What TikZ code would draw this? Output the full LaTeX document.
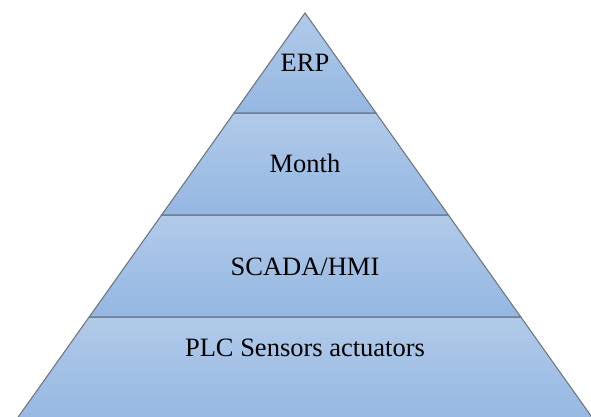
\documentclass[tikz,border=0pt]{standalone}
\usepackage{fontspec}
\setmainfont{Liberation Serif}
\newfontfamily\labelface{Liberation Serif}
\begin{document}
\begin{tikzpicture}[x=1pt,y=1pt,
  layer/.style={draw=edgegray, line width=1.1pt, line join=miter,
    top color=layertop, bottom color=layerbottom},
  label/.style={anchor=base, inner sep=0pt, text=black,
    font=\labelface\fontsize{26.5}{30}\selectfont}]
\definecolor{layertop}{HTML}{B1CAE9}
\definecolor{layerbottom}{HTML}{94B7E2}
\definecolor{edgegray}{HTML}{6E7884}
\clip (0,0) rectangle (591,417);
% pyramid layers, bottom to top
\path[layer] (11.1,-10) -- (89.2,100) -- (520.8,100) -- (598.9,-10) -- cycle;
\path[layer] (89.2,100) -- (161.6,202) -- (448.4,202) -- (520.8,100) -- cycle;
\path[layer] (161.6,202) -- (234,304) -- (376,304) -- (448.4,202) -- cycle;
\path[layer] (234,304) -- (305,404) -- (376,304) -- cycle;
% level labels
\node[label] (erp) at (305,345) {ERP};
\node[label] (month) at (305,244) {Month};
\node[label] (scada) at (305,141) {SCADA/HMI};
\node[label] (plc) at (305,60) {PLC Sensors actuators};
\end{tikzpicture}
\end{document}
